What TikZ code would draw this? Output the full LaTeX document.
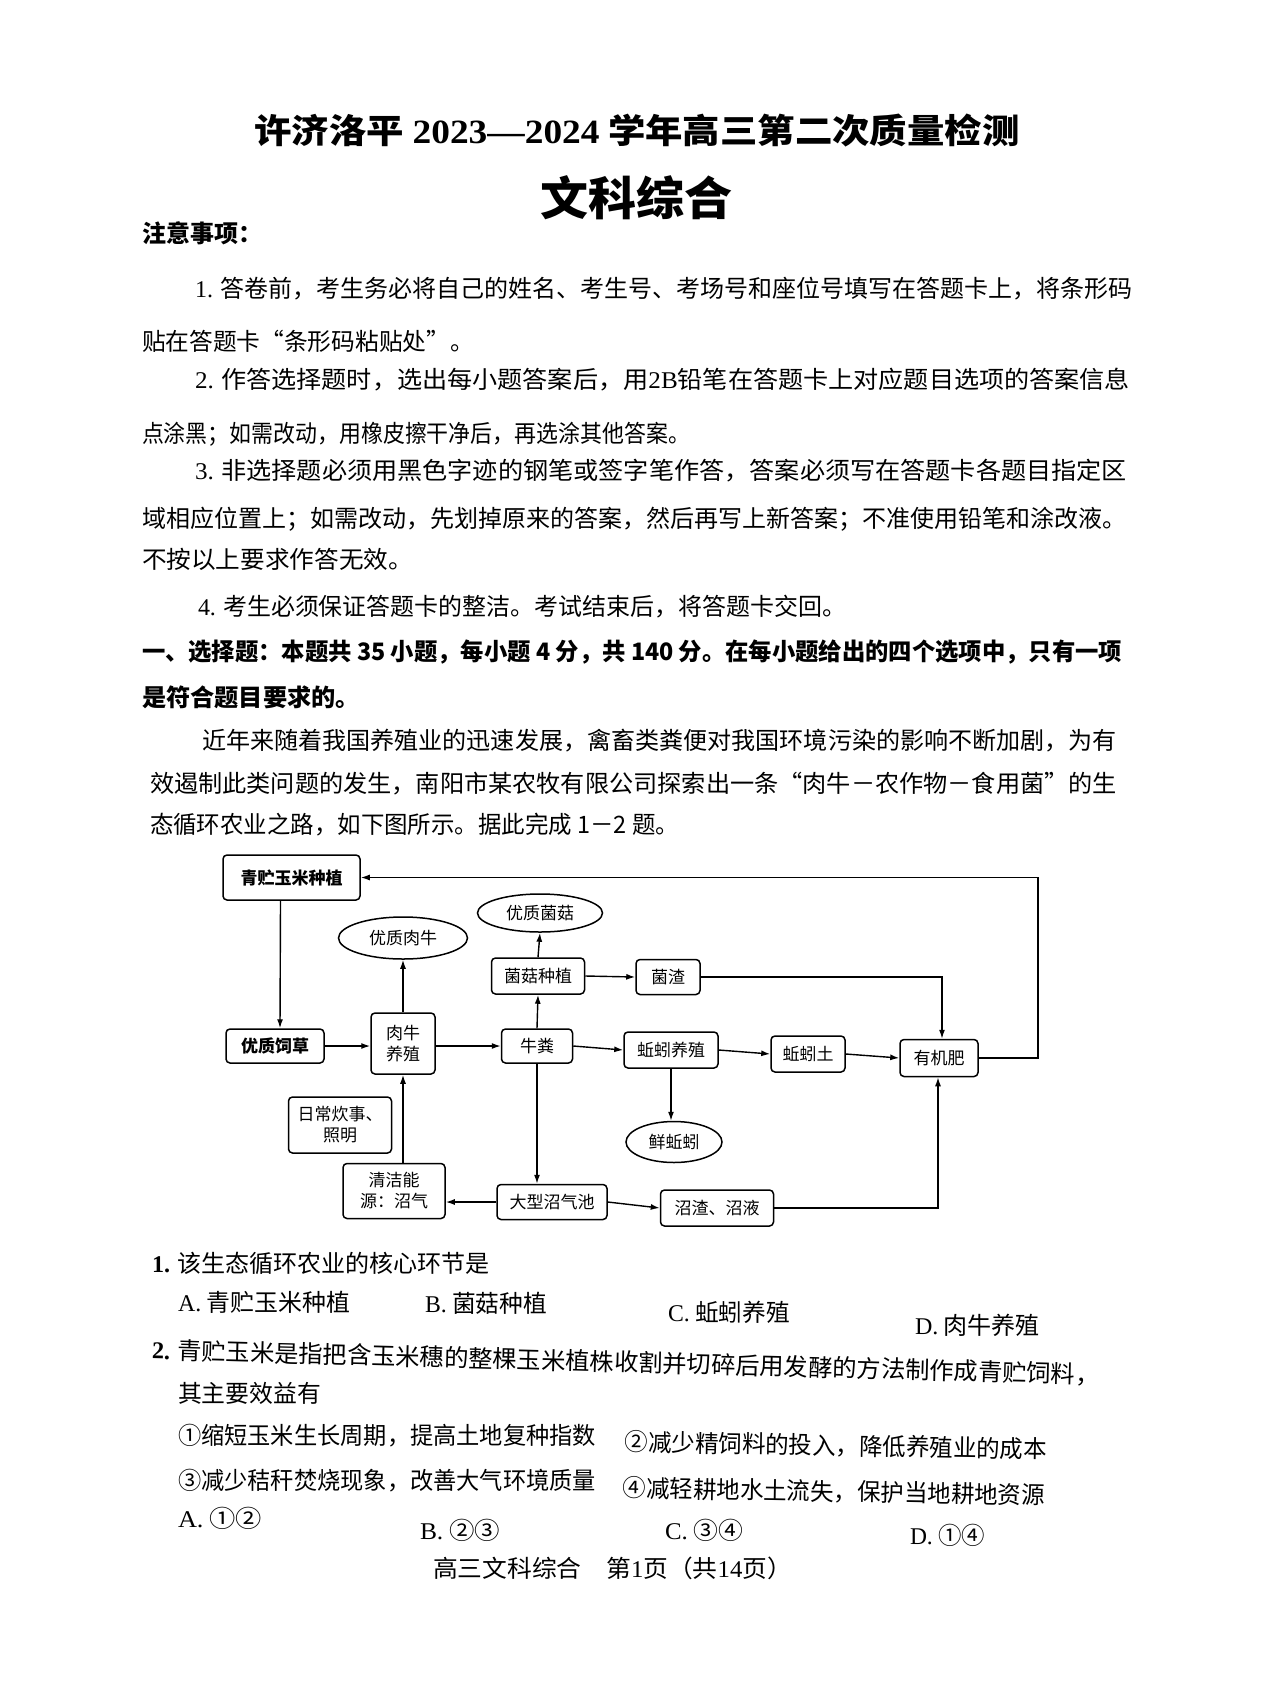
\documentclass[tikz,border=0pt]{standalone}
\usepackage{fontspec}
\usepackage{graphicx}
\setmainfont{Noto Sans CJK SC}
\newfontfamily\latf{Liberation Serif}
\usetikzlibrary{arrows.meta,shapes.geometric}
\newcommand\fitw[2]{\resizebox{#1pt}{\height}{#2}}
\tikzset{
 txt/.style={anchor=west,inner sep=0pt,outer sep=0pt,font=\fontsize{24}{28}\selectfont},
 btxt/.style={anchor=west,inner sep=0pt,outer sep=0pt,font=\fontsize{24}{28}\selectfont\bfseries},
 box/.style={draw,line width=1.5pt,rounded corners=4pt,inner sep=0pt,align=center,font=\fontsize{17}{21}\selectfont},
 bbox/.style={box,font=\fontsize{17}{21}\selectfont\bfseries},
 oval/.style={draw,ellipse,line width=1.5pt,inner sep=0pt,font=\fontsize{17}{21}\selectfont},
 arr/.style={-{Latex[length=9pt,width=6pt]},line width=1.4pt},
}
\begin{document}
\begin{tikzpicture}[x=1pt,y=-1pt]
\useasboundingbox (0,0) rectangle (1267,1689);
\fill[white] (0,0) rectangle (1267,1689);

% ---------- header ----------
\node[anchor=center,inner sep=0pt,font=\fontsize{34}{40}\selectfont\bfseries] (title) at (637,131)
  {\fitw{765}{许济洛平 {\latf 2023—2024} 学年高三第二次质量检测}};
\node[anchor=center,inner sep=0pt,font=\fontsize{46}{50}\selectfont\bfseries] (subtitle) at (636,198)
  {\fitw{192}{文科综合}};
\node[btxt] (notice) at (142,233) {注意事项：};

\node[txt] (n1) at (195,289) {\fitw{937}{{\latf 1.} 答卷前，考生务必将自己的姓名、考生号、考场号和座位号填写在答题卡上，将条形码}};
\node[txt] (n1b) at (142,341) {\fitw{332}{贴在答题卡“条形码粘贴处”。}};
\node[txt] (n2) at (195,380) {\fitw{935}{{\latf 2.} 作答选择题时，选出每小题答案后，用{\latf 2B}铅笔在答题卡上对应题目选项的答案信息}};
\node[txt] (n2b) at (142,434) {\fitw{548}{点涂黑；如需改动，用橡皮擦干净后，再选涂其他答案。}};
\node[txt] (n3) at (195,471) {\fitw{932}{{\latf 3.} 非选择题必须用黑色字迹的钢笔或签字笔作答，答案必须写在答题卡各题目指定区}};
\node[txt] (n3b) at (142,519) {\fitw{985}{域相应位置上；如需改动，先划掉原来的答案，然后再写上新答案；不准使用铅笔和涂改液。}};
\node[txt] (n3c) at (142,559) {\fitw{271}{不按以上要求作答无效。}};
\node[txt] (n4) at (198,607) {\fitw{648}{{\latf 4.} 考生必须保证答题卡的整洁。考试结束后，将答题卡交回。}};
\node[btxt] (sec1) at (142,652) {\fitw{980}{一、选择题：本题共 35 小题，每小题 4 分，共 140 分。在每小题给出的四个选项中，只有一项}};
\node[btxt] (sec1b) at (142,697) {\fitw{218}{是符合题目要求的。}};

\node[txt] (p1) at (202,741) {\fitw{915}{近年来随着我国养殖业的迅速发展，禽畜类粪便对我国环境污染的影响不断加剧，为有}};
\node[txt] (p2) at (150,784) {\fitw{967}{效遏制此类问题的发生，南阳市某农牧有限公司探索出一条“肉牛－农作物－食用菌”的生}};
\node[txt] (p3) at (150,825) {\fitw{529}{态循环农业之路，如下图所示。据此完成 1－2 题。}};

% ---------- diagram ----------
\node[bbox,minimum width=137pt,minimum height=45pt] (qz) at (291.5,877.5) {青贮玉米种植};
\node[oval,minimum width=129pt,minimum height=42pt] (yzrn) at (403,938) {优质肉牛};
\node[oval,minimum width=125pt,minimum height=38pt] (yzjg) at (540,913) {优质菌菇};
\node[box,minimum width=93pt,minimum height=36pt] (jgzz) at (538,976) {菌菇种植};
\node[box,minimum width=64pt,minimum height=35pt] (jz) at (668,977) {菌渣};
\node[bbox,minimum width=98pt,minimum height=34pt] (yzsc) at (275,1046) {优质饲草};
\node[box,minimum width=64pt,minimum height=61pt] (rnyz) at (403,1043.5) {肉牛\\养殖};
\node[box,minimum width=71pt,minimum height=34pt] (nf) at (537,1046) {牛粪};
\node[box,minimum width=94pt,minimum height=36pt] (qyyz) at (671,1050) {蚯蚓养殖};
\node[box,minimum width=74pt,minimum height=36pt] (qyt) at (808,1054) {蚯蚓土};
\node[box,minimum width=78pt,minimum height=37pt] (yjf) at (939,1058) {有机肥};
\node[box,minimum width=103pt,minimum height=56pt] (rczs) at (340,1125) {日常炊事、\\照明};
\node[box,minimum width=102pt,minimum height=55pt] (qjny) at (394,1191) {清洁能\\源：沼气};
\node[box,minimum width=110pt,minimum height=35pt] (dxzqc) at (552,1202) {大型沼气池};
\node[box,minimum width=113pt,minimum height=36pt] (zzzy) at (717,1208) {沼渣、沼液};
\node[oval,minimum width=96pt,minimum height=41pt] (xqy) at (674,1142) {鲜蚯蚓};
\coordinate (rc) at (1038,1058);

\draw[arr] ([xshift=-11pt]qz.south) -- ([xshift=5pt]yzsc.north);
\draw[arr] (yzsc.east) -- (rnyz.west |- yzsc.east);
\draw[arr] (rnyz.north) -- (yzrn.south);
\draw[arr] (rnyz.east |- nf.west) -- (nf.west);
\draw[arr] (nf.north) -- (jgzz.south);
\draw[arr] (jgzz.north) -- (yzjg.south);
\draw[arr] (jgzz.east) -- (jz.west);
\draw[arr] (jz.east) -| ([xshift=3pt]yjf.north);
\draw[arr] (nf.east) -- (qyyz.west);
\draw[arr] (qyyz.east) -- (qyt.west);
\draw[arr] (qyt.east) -- (yjf.west);
\draw[arr] (qyyz.south) -- (qyyz.south |- xqy.north);
\draw[arr] (nf.south) -- (nf.south |- dxzqc.north);
\draw[arr] (dxzqc.west) -- (qjny.east |- dxzqc.west);
\draw[arr] (dxzqc.east) -- (zzzy.west);
\draw[arr] (zzzy.east) -| ([xshift=-1pt]yjf.south);
\draw[arr] (qjny.north -| rnyz.south) -- (rnyz.south);
\draw[arr] (yjf.east) -- (rc) |- (qz.east);

% ---------- questions ----------
\node[txt] (q1) at (152,1263) {\fitw{338}{{\latf\bfseries 1.} 该生态循环农业的核心环节是}};
\node[txt] (q1a) at (178,1302) {\fitw{172}{{\latf A.} 青贮玉米种植}};
\node[txt] (q1b) at (425,1303) {\fitw{122}{{\latf B.} 菌菇种植}};
\node[txt] (q1c) at (668,1312) {\fitw{122}{{\latf C.} 蚯蚓养殖}};
\node[txt] (q1d) at (915,1325) {\fitw{125}{{\latf D.} 肉牛养殖}};
\node[txt,rotate=-1.5] (q2) at (152,1350) {\fitw{948}{{\latf\bfseries 2.} 青贮玉米是指把含玉米穗的整棵玉米植株收割并切碎后用发酵的方法制作成青贮饲料，}};
\node[txt] (q2b) at (178,1393) {\fitw{143}{其主要效益有}};
\node[txt] (o1) at (178,1436) {\fitw{418}{①缩短玉米生长周期，提高土地复种指数}};
\node[txt,rotate=-1] (o2) at (625,1442) {\fitw{422}{②减少精饲料的投入，降低养殖业的成本}};
\node[txt] (o3) at (178,1481) {\fitw{418}{③减少秸秆焚烧现象，改善大气环境质量}};
\node[txt,rotate=-1] (o4) at (623,1488) {\fitw{422}{④减轻耕地水土流失，保护当地耕地资源}};
\node[txt] (q2a) at (178,1518) {\fitw{84}{{\latf A.} ①②}};
\node[txt] (q2bb) at (420,1530) {\fitw{80}{{\latf B.} ②③}};
\node[txt] (q2c) at (665,1530) {\fitw{78}{{\latf C.} ③④}};
\node[txt] (q2d) at (910,1535) {\fitw{75}{{\latf D.} ①④}};

\node[txt] (foot) at (433,1568) {\fitw{359}{高三文科综合　第{\latf 1}页（共{\latf 14}页）}};
\end{tikzpicture}
\end{document}
